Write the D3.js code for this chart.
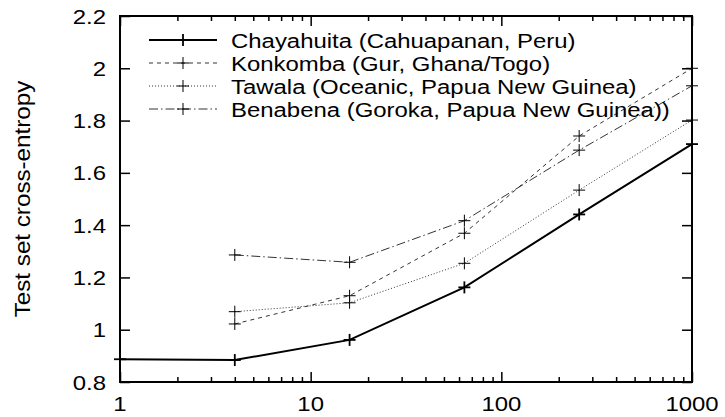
<!DOCTYPE html>
<html><head><meta charset="utf-8">
<script src="https://cdn.jsdelivr.net/npm/d3@7"></script>
<style>
html,body{margin:0;padding:0;background:#fff;}
text{font-family:"Liberation Sans",Arial,Helvetica,sans-serif;fill:#000;}
</style></head><body>
<svg id="chart" width="725" height="417"></svg>
<script>
// ---- data ----
const seriesNames = [
  "Chayahuita (Cahuapanan, Peru)",
  "Konkomba (Gur, Ghana/Togo)",
  "Tawala (Oceanic, Papua New Guinea)",
  "Benabena (Goroka, Papua New Guinea))"
];
const chayahuitaX = [1, 4, 16, 64, 256, 1000];
const chayahuitaY = [0.887, 0.884, 0.961, 1.162, 1.441, 1.710];
const konkombaX = [4, 16, 64, 256, 1000];
const konkombaY = [1.022, 1.130, 1.369, 1.741, 2.000];
const tawalaX = [4, 16, 64, 256, 1000];
const tawalaY = [1.069, 1.103, 1.254, 1.534, 1.802];
const benabenaX = [4, 16, 64, 256, 1000];
const benabenaY = [1.286, 1.258, 1.417, 1.687, 1.933];
const xTickValues = [1, 10, 100, 1000];
const xTickLabels = ["1", "10", "100", "1000"];
const yTickValues = [0.8, 1, 1.2, 1.4, 1.6, 1.8, 2, 2.2];
const yTickLabels = ["0.8", "1", "1.2", "1.4", "1.6", "1.8", "2", "2.2"];
const yAxisTitle = "Test set cross-entropy";

// ---- layout ----
const L = 120, R = 692, T = 16, B = 382;
const FS = 21, SX = 1.14;
const svg = d3.select("#chart");
const x = d3.scaleLog().domain([1, 1000]).range([L, R]);
const y = d3.scaleLinear().domain([0.8, 2.2]).range([B, T]);

const series = [
  {name: seriesNames[0], xs: chayahuitaX, ys: chayahuitaY, width: 2, dash: null, mw: 1.8},
  {name: seriesNames[1], xs: konkombaX, ys: konkombaY, width: 1, dash: "4,4", mw: 1},
  {name: seriesNames[2], xs: tawalaX, ys: tawalaY, width: 1, dash: "1,2", mw: 1},
  {name: seriesNames[3], xs: benabenaX, ys: benabenaY, width: 1, dash: "9,3,1.5,3", mw: 1}
];

function stxt(g, tx, ty, anchor, str, rot, fs, sx, dy) {
  return g.append("text")
    .attr("transform", `translate(${tx},${ty}) rotate(${rot || 0}) scale(${sx || SX},1)`)
    .attr("text-anchor", anchor).attr("font-size", fs || FS)
    .attr("dy", dy || 0).text(str);
}

// minor ticks
const minor = [];
for (let d = 1; d < 1000; d *= 10) for (let k = 2; k <= 9; k++) minor.push(d * k);

const axisG = svg.append("g");
function ticks(axis, tx, ty) {
  const g = axisG.append("g").attr("transform", `translate(${tx},${ty})`).call(axis);
  g.select(".domain").remove();
  g.selectAll("line").attr("stroke", "#000").attr("stroke-width", 1.5);
  g.selectAll("text").remove();
  return g;
}
ticks(d3.axisBottom(x).tickValues(xTickValues).tickSizeInner(-10).tickSizeOuter(0), 0, B);
ticks(d3.axisBottom(x).tickValues(minor).tickSizeInner(-5).tickSizeOuter(0), 0, B);
ticks(d3.axisTop(x).tickValues(xTickValues).tickSizeInner(-10).tickSizeOuter(0), 0, T);
ticks(d3.axisTop(x).tickValues(minor).tickSizeInner(-5).tickSizeOuter(0), 0, T);
ticks(d3.axisLeft(y).tickValues(yTickValues).tickSizeInner(-10).tickSizeOuter(0), L, 0);
ticks(d3.axisRight(y).tickValues(yTickValues).tickSizeInner(-10).tickSizeOuter(0), R, 0);

// tick labels
xTickValues.forEach((v, i) => stxt(axisG, x(v), 411, "middle", xTickLabels[i]));
yTickValues.forEach((v, i) => stxt(axisG, 106, y(v), "end", yTickLabels[i], 0, FS, SX, "0.36em"));

// frame
svg.append("rect").attr("x", L).attr("y", T).attr("width", R - L).attr("height", B - T)
  .attr("fill", "none").attr("stroke", "#000").attr("stroke-width", 2);

// y title
stxt(svg, 30, (T + B) / 2, "middle", yAxisTitle, -90, 22, 1.1);

// lines
const line = d3.line().x(d => x(d[0])).y(d => y(d[1]));
const plusSize = 6;
function plus(g, cx, cy, w, s) {
  g.append("line").attr("x1", cx - s).attr("x2", cx + s).attr("y1", cy).attr("y2", cy)
    .attr("stroke", "#000").attr("stroke-width", w);
  g.append("line").attr("x1", cx).attr("x2", cx).attr("y1", cy - s).attr("y2", cy + s)
    .attr("stroke", "#000").attr("stroke-width", w);
}
const plotG = svg.append("g");
series.slice().reverse().forEach(s => {
  const pts = s.xs.map((v, i) => [v, s.ys[i]]);
  plotG.append("path").datum(pts).attr("d", line).attr("fill", "none")
    .attr("stroke", s.dash ? "#333" : "#000").attr("stroke-width", s.width)
    .attr("stroke-dasharray", s.dash);
  pts.forEach(p => plus(plotG, x(p[0]), y(p[1]), s.mw, plusSize));
});

// legend
const legY0 = 40, legStep = 23, legX1 = 149, legX2 = 217, legTX = 231;
series.forEach((s, i) => {
  const yy = legY0 + i * legStep;
  const g = svg.append("g");
  g.append("line").attr("x1", legX1).attr("x2", legX2).attr("y1", yy).attr("y2", yy)
    .attr("stroke", s.dash ? "#333" : "#000").attr("stroke-width", s.width)
    .attr("stroke-dasharray", s.dash);
  plus(g, (legX1 + legX2) / 2, yy, s.mw, plusSize);
  stxt(g, legTX, yy, "start", s.name, 0, FS, SX, "0.36em");
});
</script>
</body></html>
